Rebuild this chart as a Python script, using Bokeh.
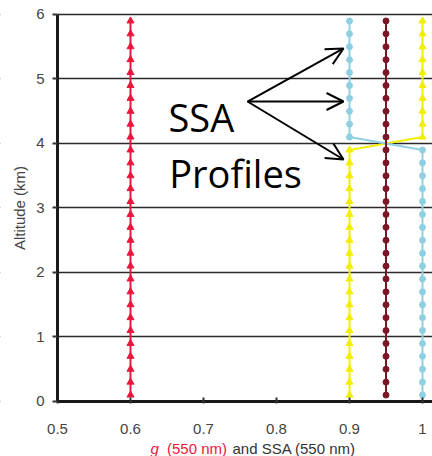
from bokeh.plotting import figure
from bokeh.models import Arrow, OpenHead, Label, BoxAnnotation
from bokeh.embed import file_html
from bokeh.resources import INLINE

# Layer altitudes (km), mid-points of 0.2 km layers
altitude = [0.1, 0.3, 0.5, 0.7, 0.9, 1.1, 1.3, 1.5, 1.7, 1.9,
            2.1, 2.3, 2.5, 2.7, 2.9, 3.1, 3.3, 3.5, 3.7, 3.9,
            4.1, 4.3, 4.5, 4.7, 4.9, 5.1, 5.3, 5.5, 5.7, 5.9]

# Asymmetry parameter g at 550 nm
g_550 = [0.6, 0.6, 0.6, 0.6, 0.6, 0.6, 0.6, 0.6, 0.6, 0.6,
         0.6, 0.6, 0.6, 0.6, 0.6, 0.6, 0.6, 0.6, 0.6, 0.6,
         0.6, 0.6, 0.6, 0.6, 0.6, 0.6, 0.6, 0.6, 0.6, 0.6]

# Single scattering albedo profiles at 550 nm
ssa_low_below = [0.9, 0.9, 0.9, 0.9, 0.9, 0.9, 0.9, 0.9, 0.9, 0.9,
                 0.9, 0.9, 0.9, 0.9, 0.9, 0.9, 0.9, 0.9, 0.9, 0.9,
                 1.0, 1.0, 1.0, 1.0, 1.0, 1.0, 1.0, 1.0, 1.0, 1.0]
ssa_const = [0.95, 0.95, 0.95, 0.95, 0.95, 0.95, 0.95, 0.95, 0.95, 0.95,
             0.95, 0.95, 0.95, 0.95, 0.95, 0.95, 0.95, 0.95, 0.95, 0.95,
             0.95, 0.95, 0.95, 0.95, 0.95, 0.95, 0.95, 0.95, 0.95, 0.95]
ssa_low_above = [1.0, 1.0, 1.0, 1.0, 1.0, 1.0, 1.0, 1.0, 1.0, 1.0,
                 1.0, 1.0, 1.0, 1.0, 1.0, 1.0, 1.0, 1.0, 1.0, 1.0,
                 0.9, 0.9, 0.9, 0.9, 0.9, 0.9, 0.9, 0.9, 0.9, 0.9]

y_ticks = [0, 1, 2, 3, 4, 5, 6]
x_ticks = [0.5, 0.6, 0.7, 0.8, 0.9, 1.0]
x_min, x_max = 0.5, 1.0137
y_min, y_max = 0, 6

# Callout: text and arrows pointing at the SSA profiles
callout_origin = (0.7603, 4.651)
callout_tips_x = [0.8918, 0.8918, 0.8918]
callout_tips_y = [5.473, 4.651, 3.752]

# The frame fills the whole canvas; both axes are pinned at the data origin
# so the tick labels and the two-colour x title sit inside the frame.
p = figure(width=432, height=456, x_range=(0.4219, x_max), y_range=(-0.853, 6.217),
           output_backend="svg", toolbar_location=None,
           min_border_left=0, min_border_right=0,
           min_border_top=0, min_border_bottom=0)
p.outline_line_color = None
p.background_fill_color = "white"
p.border_fill_color = "white"

p.xgrid.grid_line_color = None
p.ygrid.grid_line_color = "#2a2a2a"
p.ygrid.grid_line_width = 1.6

# Keep the horizontal grid lines to the right of the y axis
p.add_layout(BoxAnnotation(right=x_min, fill_color="white", fill_alpha=1.0,
                           line_color=None, level="underlay"))

p.xaxis.ticker = x_ticks
p.yaxis.ticker = y_ticks
p.xaxis.fixed_location = y_min
p.yaxis.fixed_location = x_min
p.xaxis.bounds = (x_min, x_max)
p.yaxis.bounds = (y_min, y_max)
p.xaxis.major_label_overrides = {0.5: "0.5", 0.6: "0.6", 0.7: "0.7", 0.8: "0.8", 0.9: "0.9", 1.0: "1"}
p.xaxis.minor_tick_line_color = None
p.yaxis.minor_tick_line_color = None

for ax in (p.xaxis, p.yaxis):
    ax.axis_line_color = "#1a1a1a"
    ax.axis_line_width = 3
    ax.major_tick_line_color = "#333333"
    ax.major_tick_line_width = 2
    ax.major_label_text_font = "Liberation Sans"
    ax.major_label_text_font_size = "15px"
    ax.major_label_text_color = "#444444"

p.yaxis.major_tick_in = 0
p.yaxis.major_tick_out = 5
p.yaxis.major_label_standoff = 8
p.xaxis.major_tick_in = 4
p.xaxis.major_tick_out = 2
p.xaxis.major_label_standoff = 21

p.yaxis.axis_label = "Altitude (km)"
p.yaxis.axis_label_text_font = "Liberation Sans"
p.yaxis.axis_label_text_font_style = "normal"
p.yaxis.axis_label_text_font_size = "15px"
p.yaxis.axis_label_text_color = "#444444"
p.yaxis.axis_label_standoff = 5

# Profiles
p.line(g_550, altitude, line_color="#e8173c", line_width=2)
p.scatter(g_550, altitude, marker="triangle", size=7, color="#e8173c")

p.line(ssa_low_below, altitude, line_color="#f2ee00", line_width=2)
p.scatter(ssa_low_below, altitude, marker="triangle", size=7, color="#f2ee00")

p.line(ssa_low_above, altitude, line_color="#8ecfe2", line_width=2)
p.scatter(ssa_low_above, altitude, marker="asterisk", size=7, line_width=2, color="#8ecfe2")

p.line(ssa_const, altitude, line_color="#7a1626", line_width=2)
p.scatter(ssa_const, altitude, marker="circle", size=6, color="#7a1626")

# Callout text and arrows
p.add_layout(Label(x=0.652, y=4.403, text="SSA", text_font="Open Sans",
                   text_font_size="38px", text_color="black",
                   text_baseline="alphabetic"))
p.add_layout(Label(x=0.653, y=3.535, text="Profiles", text_font="Open Sans",
                   text_font_size="38px", text_color="black",
                   text_baseline="alphabetic"))
for tx, ty in zip(callout_tips_x, callout_tips_y):
    p.add_layout(Arrow(x_start=callout_origin[0], y_start=callout_origin[1],
                       x_end=tx, y_end=ty, line_color="black", line_width=2,
                       end=OpenHead(size=17, line_width=2, line_color="black")))

# Two-colour x-axis title
p.add_layout(Label(x=0.6274, y=-0.73, text="g", text_font="Liberation Sans",
                   text_font_size="15px", text_font_style="italic",
                   text_color="#e8173c", text_baseline="alphabetic"))
p.add_layout(Label(x=0.650, y=-0.73, text="(550 nm)", text_font="Liberation Sans",
                   text_font_size="15px", text_color="#e8173c",
                   text_baseline="alphabetic"))
p.add_layout(Label(x=0.7397, y=-0.73, text="and SSA (550 nm)", text_font="Liberation Sans",
                   text_font_size="15px", text_color="#333333",
                   text_baseline="alphabetic"))

open("out.html", "w").write(file_html(p, INLINE))
